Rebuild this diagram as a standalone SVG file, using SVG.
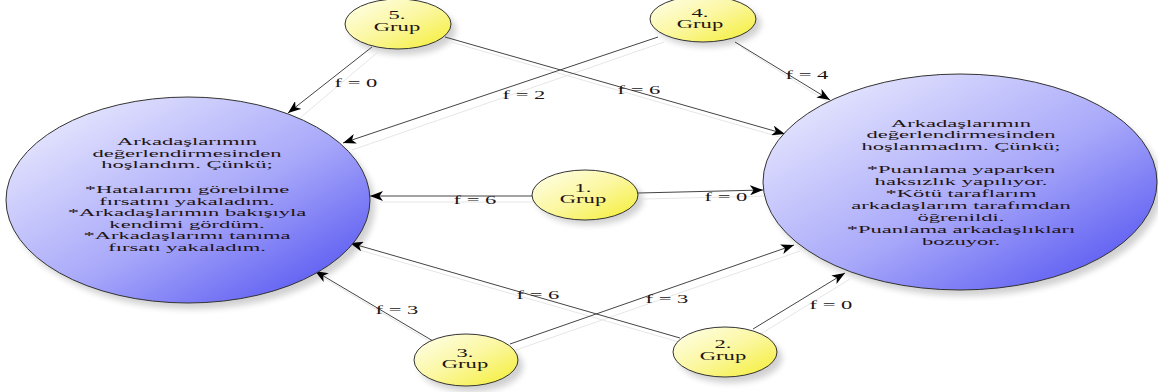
<svg xmlns="http://www.w3.org/2000/svg" width="1158" height="392" viewBox="0 0 1158 392">
<defs>
<linearGradient id="gBlue" x1="0" y1="0" x2="1" y2="1">
<stop offset="0" stop-color="#f4f4ff"/>
<stop offset="0.55" stop-color="#a8a8fa"/>
<stop offset="1" stop-color="#4646f0"/>
</linearGradient>
<linearGradient id="gYel" x1="0" y1="0" x2="1" y2="1">
<stop offset="0" stop-color="#ffffee"/>
<stop offset="0.5" stop-color="#fbf7a0"/>
<stop offset="1" stop-color="#f4ee30"/>
</linearGradient>
<filter id="sh" x="-20%" y="-20%" width="140%" height="140%">
<feGaussianBlur stdDeviation="3"/>
</filter>
<marker id="arr" markerUnits="userSpaceOnUse" markerWidth="14" markerHeight="10" refX="13" refY="5" orient="auto">
<path d="M0,0 L13,5 L0,10 L3.5,5 Z" fill="#000"/>
</marker>
<style>
.big{fill:url(#gBlue);stroke:#333;stroke-width:1}
.sm{fill:url(#gYel);stroke:#333;stroke-width:1}
.shd{fill:#000;opacity:0.18;filter:url(#sh)}
.t{font-family:"Liberation Serif","Times New Roman",serif;font-size:12px;fill:#221414;text-anchor:middle}
.b{font-family:"Liberation Serif","Times New Roman",serif;font-size:11px;fill:#221414;text-anchor:middle}
.e{stroke:#444;stroke-width:1;fill:none;marker-end:url(#arr)}
.es{stroke:#e6e6e6;stroke-width:1;fill:none}
</style>
</defs>
<rect width="1158" height="392" fill="#fff"/>

<g id="shadows">
<ellipse class="shd" cx="193" cy="206" rx="182" ry="103"/>
<ellipse class="shd" cx="965" cy="188" rx="197" ry="108"/>
<ellipse class="shd" cx="403" cy="30" rx="53" ry="25"/>
<ellipse class="shd" cx="708" cy="24" rx="53" ry="23"/>
<ellipse class="shd" cx="590" cy="200" rx="53" ry="25"/>
<ellipse class="shd" cx="471" cy="366" rx="52" ry="26"/>
<ellipse class="shd" cx="730" cy="358" rx="52" ry="25"/>
</g>

<g id="connectors">
<line class="es" x1="378" y1="52" x2="300" y2="118"/>
<line class="es" x1="664" y1="42" x2="352" y2="150"/>
<line class="es" x1="451" y1="42" x2="790" y2="140"/>
<line class="es" x1="741" y1="47" x2="834" y2="106"/>
<line class="es" x1="537" y1="202" x2="380" y2="202"/>
<line class="es" x1="643" y1="199" x2="768" y2="196"/>
<line class="es" x1="439" y1="347" x2="322" y2="277"/>
<line class="es" x1="686" y1="344" x2="356" y2="249"/>
<line class="es" x1="516" y1="350" x2="800" y2="251"/>
<line class="es" x1="759" y1="335" x2="850" y2="279"/>

<line class="e" x1="372" y1="47" x2="288" y2="113"/>
<line class="e" x1="658" y1="37" x2="343" y2="143"/>
<line class="e" x1="445" y1="37" x2="785" y2="134"/>
<line class="e" x1="735" y1="42" x2="830" y2="100"/>
<line class="e" x1="532" y1="196" x2="370" y2="196"/>
<line class="e" x1="638" y1="193" x2="763" y2="190"/>
<line class="e" x1="433" y1="341" x2="315" y2="271"/>
<line class="e" x1="680" y1="338" x2="350" y2="243"/>
<line class="e" x1="510" y1="344" x2="794" y2="245"/>
<line class="e" x1="753" y1="329" x2="845" y2="273"/>

<text class="t" transform="translate(356,87) scale(1.88,1)">f = 0</text>
<text class="t" transform="translate(524,99) scale(1.88,1)">f = 2</text>
<text class="t" transform="translate(639,94) scale(1.88,1)">f = 6</text>
<text class="t" transform="translate(807,79) scale(1.88,1)">f = 4</text>
<text class="t" transform="translate(475,204) scale(1.88,1)">f = 6</text>
<text class="t" transform="translate(726,201) scale(1.88,1)">f = 0</text>
<text class="t" transform="translate(397,314) scale(1.88,1)">f = 3</text>
<text class="t" transform="translate(538,299) scale(1.88,1)">f = 6</text>
<text class="t" transform="translate(667,303) scale(1.88,1)">f = 3</text>
<text class="t" transform="translate(831,309) scale(1.88,1)">f = 0</text>
</g>

<g id="left">
<ellipse class="big" cx="188" cy="200" rx="182" ry="103"/>
<g transform="translate(187,0) scale(2.05,1)">
<text class="b" x="0" y="145.5">Arkadaşlarımın</text>
<text class="b" x="0" y="157">değerlendirmesinden</text>
<text class="b" x="0" y="168.5">hoşlandım. Çünkü;</text>
<text class="b" x="0" y="193.5">*Hatalarımı görebilme</text>
<text class="b" x="0" y="205">fırsatını yakaladım.</text>
<text class="b" x="0" y="216.5">*Arkadaşlarımın bakışıyla</text>
<text class="b" x="0" y="228">kendimi gördüm.</text>
<text class="b" x="0" y="239.5">*Arkadaşlarımı tanıma</text>
<text class="b" x="0" y="251">fırsatı yakaladım.</text>
</g>
</g>

<g id="right">
<ellipse class="big" cx="960" cy="182" rx="197" ry="108"/>
<g transform="translate(961,0) scale(2.05,1)">
<text class="b" x="0" y="126.7">Arkadaşlarımın</text>
<text class="b" x="0" y="138.3">değerlendirmesinden</text>
<text class="b" x="0" y="150">hoşlanmadım. Çünkü;</text>
<text class="b" x="0" y="173.3">*Puanlama yaparken</text>
<text class="b" x="0" y="185">haksızlık yapılıyor.</text>
<text class="b" x="0" y="197">*Kötü taraflarım</text>
<text class="b" x="0" y="209">arkadaşlarım tarafımdan</text>
<text class="b" x="0" y="221">öğrenildi.</text>
<text class="b" x="0" y="233">*Puanlama arkadaşlıkları</text>
<text class="b" x="0" y="245">bozuyor.</text>
</g>
</g>

<g id="g5">
<ellipse class="sm" cx="398" cy="24" rx="53" ry="25"/>
<g transform="translate(397,0) scale(1.88,1)">
<text class="t" x="0" y="19">5.</text>
<text class="t" x="0" y="31">Grup</text>
</g>
</g>

<g id="g4">
<ellipse class="sm" cx="703" cy="19" rx="53" ry="23"/>
<g transform="translate(700,0) scale(1.88,1)">
<text class="t" x="0" y="17">4.</text>
<text class="t" x="0" y="28.5">Grup</text>
</g>
</g>

<g id="g1">
<ellipse class="sm" cx="585" cy="195" rx="53" ry="25"/>
<g transform="translate(583,0) scale(1.88,1)">
<text class="t" x="0" y="192">1.</text>
<text class="t" x="0" y="203.5">Grup</text>
</g>
</g>

<g id="g3">
<ellipse class="sm" cx="466" cy="360" rx="52" ry="26"/>
<g transform="translate(465,0) scale(1.88,1)">
<text class="t" x="0" y="356.7">3.</text>
<text class="t" x="0" y="368.5">Grup</text>
</g>
</g>

<g id="g2">
<ellipse class="sm" cx="725" cy="352" rx="52" ry="25"/>
<g transform="translate(723,0) scale(1.88,1)">
<text class="t" x="0" y="348">2.</text>
<text class="t" x="0" y="360">Grup</text>
</g>
</g>
</svg>
